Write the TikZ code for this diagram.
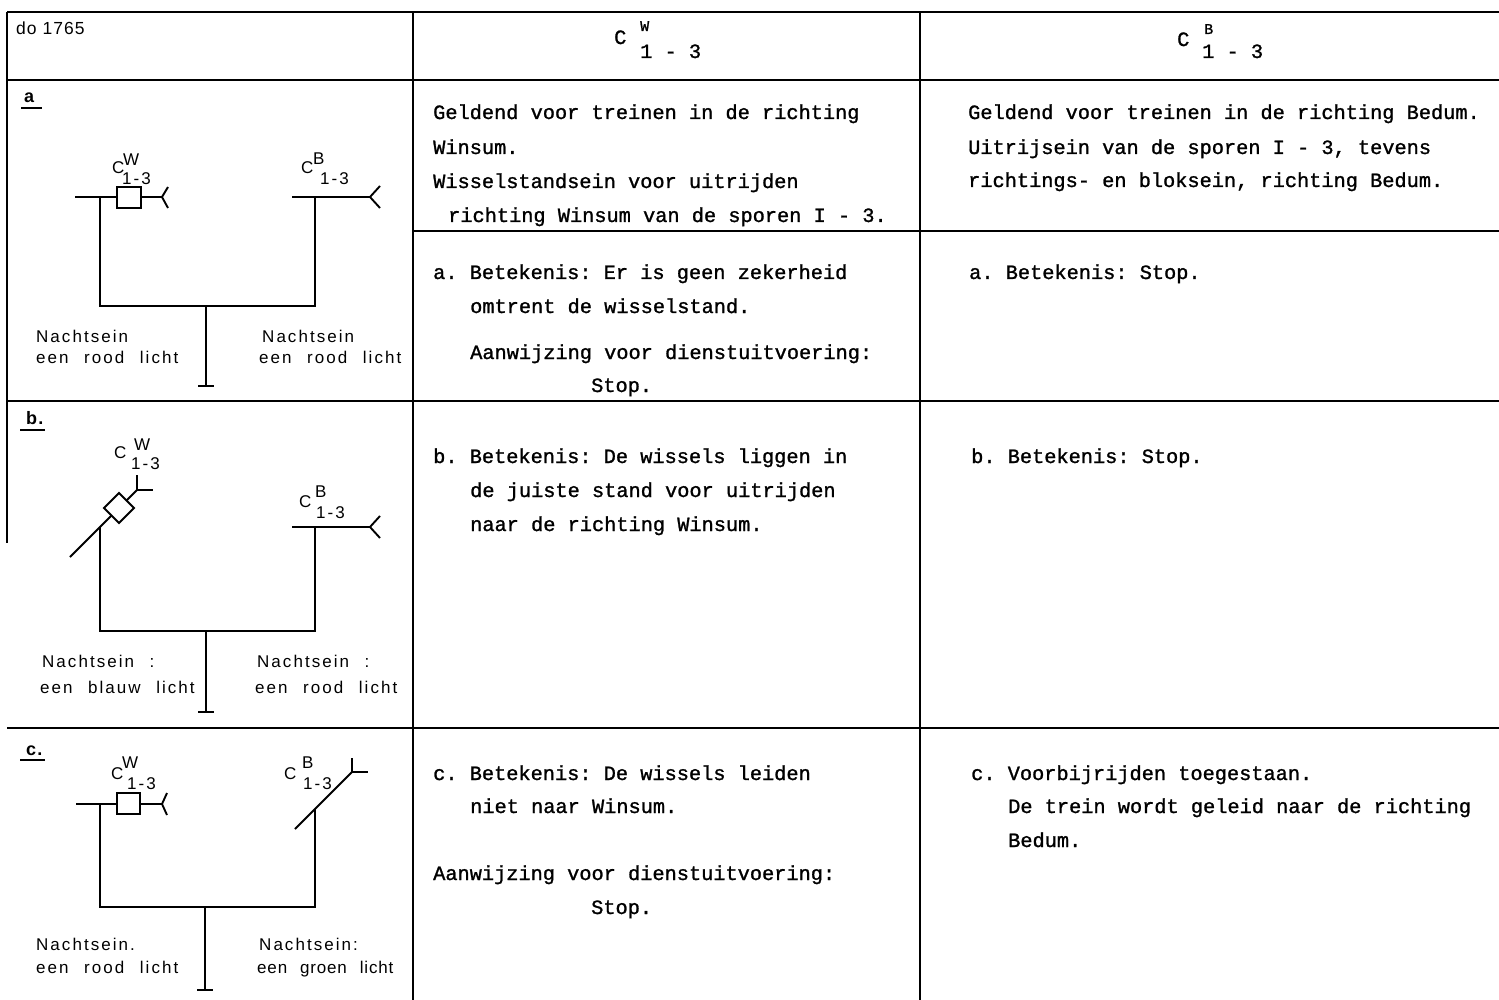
\documentclass[tikz,border=0pt]{standalone}
\usepackage{fontspec}
\frenchspacing
\newfontfamily\twfont[FakeBold=1.2]{Liberation Mono}
\newfontfamily\lbfont[LetterSpace=12,WordSpace=2.3]{Liberation Sans}
\newfontfamily\lbtight[LetterSpace=5,WordSpace=2.3]{Liberation Sans}
\newfontfamily\hdfont[LetterSpace=6]{Liberation Sans}
\tikzset{
  tw/.style={font={\twfont\fontsize{20.3}{24}\selectfont}, anchor=base west, inner sep=0pt},
  twsup/.style={font={\twfont\fontsize{15}{18}\selectfont}, anchor=base west, inner sep=0pt},
  lb/.style={font={\lbfont\fontsize{17}{20}\selectfont}, anchor=base west, inner sep=0pt},
  lbt/.style={font={\lbtight\fontsize{17}{20}\selectfont}, anchor=base west, inner sep=0pt},
  rowlab/.style={font={\hdfont\bfseries\fontsize{18}{21}\selectfont}, anchor=base west, inner sep=0pt},
  hd/.style={font={\hdfont\fontsize{17.5}{20}\selectfont}, anchor=base west, inner sep=0pt},
  gridline/.style={line width=1.6pt},
  heavyline/.style={line width=2.4pt},
  sig/.style={line width=1.9pt},
}
\begin{document}
\begin{tikzpicture}[x=1pt,y=-1pt]
\useasboundingbox (0,0) rectangle (1499,1000);
\fill[white] (0,0) rectangle (1499,1000);
% ---------- table ----------
\draw[heavyline] (7,12) -- (1499,12);
\draw[heavyline] (7,80) -- (1499,80);
\draw[gridline] (7,12) -- (7,543);
\draw[gridline] (413,12) -- (413,1000);
\draw[gridline] (920,12) -- (920,1000);
\draw[gridline] (413,231) -- (1499,231);
\draw[gridline] (7,401) -- (1499,401);
\draw[gridline] (7,728) -- (1499,728);
% ---------- header ----------
\node[hd] (hdo) at (16,35) {do 1765};
\node[tw] (h2c) at (614,44) {C};
\node[twsup] (h2w) at (640,31) {W};
\node[tw] (h2n) at (640,58) {1 - 3};
\node[tw] (h3c) at (1177,46) {C};
\node[twsup] (h3b) at (1204,34) {B};
\node[tw] (h3n) at (1202,58) {1 - 3};
% ---------- row labels ----------
\node[rowlab] (ra) at (24,103) {a};
\draw[gridline] (21,108) -- (42,108);
\node[rowlab] (rb) at (26,424) {b.};
\draw[gridline] (20,430) -- (45,430);
\node[rowlab] (rc) at (26,755) {c.};
\draw[gridline] (20,760) -- (45,760);
% ---------- row a diagram ----------
\draw[sig] (75,197) -- (117,197);
\draw[sig] (117,187) rectangle (141,208);
\draw[sig] (141,197) -- (162,197);
\draw[sig] (168,187) -- (162,197) -- (168,208);
\draw[sig] (100,197) -- (100,306) -- (315,306) -- (315,197);
\draw[sig] (292,197) -- (370,197);
\draw[sig] (380,186) -- (370,197) -- (380,208);
\draw[sig] (206,306) -- (206,386);
\draw[sig] (198,386) -- (214,386);
\node[lb] (aCl) at (112,174) {C};
\node[lb] (aWl) at (123,166) {W};
\node[lb] (aNl) at (122,185) {1-3};
\node[lb] (aCr) at (301,174) {C};
\node[lb] (aBr) at (313,165) {B};
\node[lb] (aNr) at (320,185) {1-3};
\node[lb] (aL1) at (36,342) {Nachtsein};
\node[lb] (aL2) at (36,363) {een rood licht};
\node[lb] (aR1) at (262,342) {Nachtsein};
\node[lb] (aR2) at (259,363) {een rood licht};
% ---------- row b diagram ----------
\draw[sig] (70,557) -- (111.5,515.5);
\draw[sig] (104,508) -- (119,493) -- (134,508) -- (119,523) -- cycle;
\draw[sig] (126.5,500.5) -- (137,490);
\draw[sig] (137,475) -- (137,490) -- (153,490);
\draw[sig] (100,527) -- (100,631) -- (315,631) -- (315,527);
\draw[sig] (292,527) -- (370,527);
\draw[sig] (380,516) -- (370,527) -- (380,538);
\draw[sig] (206,631) -- (206,712);
\draw[sig] (198,712) -- (214,712);
\node[lb] (bCl) at (114,458) {C};
\node[lb] (bWl) at (134,450) {W};
\node[lb] (bNl) at (131,469) {1-3};
\node[lb] (bCr) at (299,507) {C};
\node[lb] (bBr) at (315,497) {B};
\node[lb] (bNr) at (316,518) {1-3};
\node[lb] (bL1) at (42,667) {Nachtsein :};
\node[lb] (bL2) at (40,693) {een blauw licht};
\node[lb] (bR1) at (257,667) {Nachtsein :};
\node[lb] (bR2) at (255,693) {een rood licht};
% ---------- row c diagram ----------
\draw[sig] (76,804) -- (117,804);
\draw[sig] (117,793) rectangle (140,814);
\draw[sig] (140,804) -- (162,804);
\draw[sig] (167,793) -- (162,804) -- (167,815);
\draw[sig] (100,804) -- (100,907) -- (315,907) -- (315,809);
\draw[sig] (295,829) -- (352,772);
\draw[sig] (352,758) -- (352,772) -- (368,772);
\draw[sig] (205,907) -- (205,990);
\draw[sig] (197,990) -- (213,990);
\node[lb] (cCl) at (111,779) {C};
\node[lb] (cWl) at (122,768) {W};
\node[lb] (cNl) at (127,789) {1-3};
\node[lb] (cCr) at (284,779) {C};
\node[lb] (cBr) at (302,768) {B};
\node[lb] (cNr) at (303,789) {1-3};
\node[lb] (cL1) at (36,950) {Nachtsein.};
\node[lb] (cL2) at (36,973) {een rood licht};
\node[lb] (cR1) at (259,950) {Nachtsein:};
\node[lbt] (cR2) at (257,973) {een groen licht};
% ---------- column 2 texts ----------
\node[tw] (t1) at (433,119) {Geldend voor treinen in de richting};
\node[tw] (t2) at (433,154) {Winsum.};
\node[tw] (t3) at (433,188) {Wisselstandsein voor uitrijden};
\node[tw] (t4) at (448,222) {richting Winsum van de sporen I - 3.};
\node[tw] (t5) at (433,279) {a. Betekenis: Er is geen zekerheid};
\node[tw] (t6) at (470,313) {omtrent de wisselstand.};
\node[tw] (t7) at (470,359) {Aanwijzing voor dienstuitvoering:};
\node[tw] (t8) at (591,392) {Stop.};
\node[tw] (t9) at (433,463) {b. Betekenis: De wissels liggen in};
\node[tw] (t10) at (470,497) {de juiste stand voor uitrijden};
\node[tw] (t11) at (470,531) {naar de richting Winsum.};
\node[tw] (t12) at (433,780) {c. Betekenis: De wissels leiden};
\node[tw] (t13) at (470,813) {niet naar Winsum.};
\node[tw] (t14) at (433,880) {Aanwijzing voor dienstuitvoering:};
\node[tw] (t15) at (591,914) {Stop.};
% ---------- column 3 texts ----------
\node[tw] (u1) at (968,119) {Geldend voor treinen in de richting Bedum.};
\node[tw] (u2) at (968,154) {Uitrijsein van de sporen I - 3, tevens};
\node[tw] (u3) at (968,187) {richtings- en bloksein, richting Bedum.};
\node[tw] (u4) at (969,279) {a. Betekenis: Stop.};
\node[tw] (u5) at (971,463) {b. Betekenis: Stop.};
\node[tw] (u6) at (971,780) {c. Voorbijrijden toegestaan.};
\node[tw] (u7) at (1008,813) {De trein wordt geleid naar de richting};
\node[tw] (u8) at (1008,847) {Bedum.};
\end{tikzpicture}
\end{document}
